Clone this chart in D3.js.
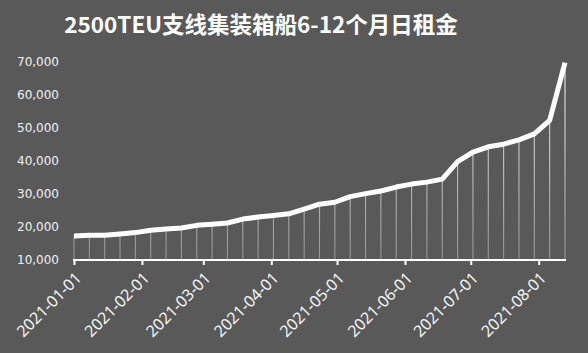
<!DOCTYPE html>
<html>
	<head>
		<meta charset="utf-8">
		<title>2500TEU支线集装箱船6-12个月日租金</title>
		<script src="https://cdn.jsdelivr.net/npm/d3@7"></script>
		<style>
			body { margin: 0; background: #595959; }
		</style>
	</head>
	<body>
		<div id='viz'></div>
		<script>
			var width = 588,
				height = 353;

			// weekly points, every Friday from 2021-01-01
			var startDate = '2021-01-01';
			var rents = [17300, 17500, 17500, 17900, 18300, 19000, 19400, 19700, 20500, 20800,
				21200, 22400, 23000, 23500, 24000, 25400, 26900, 27500, 29200, 30100,
				30900, 32100, 33000, 33600, 34500, 39800, 42700, 44300, 45100, 46400,
				48200, 52300, 69800];
			var yTicks = [10000, 20000, 30000, 40000, 50000, 60000, 70000];
			var xTickLabels = ['2021-01-01','2021-02-01','2021-03-01','2021-04-01',
				'2021-05-01','2021-06-01','2021-07-01','2021-08-01'];

			var parse = d3.timeParse('%Y-%m-%d');
			var t0 = parse(startDate);
			var data = rents.map((v, i) => ({date: d3.timeDay.offset(t0, i * 7), value: v}));

			var x = d3.scaleTime()
				.domain(d3.extent(data, d => d.date))
				.range([74, 565]);
			var y = d3.scaleLinear()
				.domain([10000, 70000])
				.range([260, 62]);

			var svg = d3.select('#viz')
				.append('svg')
				.attr('width', width)
				.attr('height', height);

			svg.append('rect')
				.attr('width', width)
				.attr('height', height)
				.attr('fill', '#595959');

			// title
			svg.append('text')
				.attr('x', 261)
				.attr('y', 33)
				.attr('text-anchor', 'middle')
				.attr('font-family', '"Noto Sans CJK SC", "Noto Sans", sans-serif')
				.attr('font-weight', 'bold')
				.attr('font-size', 22.5)
				.attr('fill', '#fff')
				.text('2500TEU支线集装箱船6-12个月日租金');

			// drop lines, fading toward the axis
			var grad = svg.append('defs').append('linearGradient')
				.attr('id', 'drop')
				.attr('gradientUnits', 'userSpaceOnUse')
				.attr('x1', 0).attr('x2', 0)
				.attr('y1', y(70000)).attr('y2', y(10000));
			grad.append('stop').attr('offset', '0%').attr('stop-color', '#fff').attr('stop-opacity', 0.95);
			grad.append('stop').attr('offset', '100%').attr('stop-color', '#fff').attr('stop-opacity', 0.35);

			svg.append('g')
				.selectAll('line')
				.data(data)
				.join('line')
				.attr('x1', d => x(d.date))
				.attr('x2', d => x(d.date))
				.attr('y1', d => y(d.value))
				.attr('y2', y(10000))
				.attr('stroke', 'url(#drop)')
				.attr('stroke-width', 1.1);

			// y labels
			svg.append('g')
				.selectAll('text')
				.data(yTicks)
				.join('text')
				.attr('x', 59)
				.attr('y', d => y(d))
				.attr('dy', '0.35em')
				.attr('text-anchor', 'end')
				.attr('font-family', '"DejaVu Sans", sans-serif')
				.attr('font-size', 12)
				.attr('fill', '#f2f2f2')
				.text(d => d3.format(',')(d));

			// x axis
			var xAxis = d3.axisBottom(x)
				.tickValues(xTickLabels.map(parse))
				.tickFormat(d3.timeFormat('%Y-%m-%d'))
				.tickSize(5)
				.tickSizeOuter(0);
			var gx = svg.append('g')
				.attr('transform', `translate(0,${y(10000)})`)
				.call(xAxis);
			gx.select('.domain')
				.attr('stroke', '#fff')
				.attr('stroke-width', 2.2)
				.attr('d', `M${x.range()[0] - 1},0H${x.range()[1] + 1}`);
			gx.selectAll('.tick line')
				.attr('stroke', '#fff')
				.attr('stroke-width', 2);
			gx.selectAll('.tick text')
				.attr('fill', '#f5f5f5')
				.attr('font-family', '"Noto Sans", sans-serif')
				.attr('font-size', 16)
				.attr('text-anchor', 'end')
				.attr('y', 0)
				.attr('dy', '0.35em')
				.attr('transform', 'translate(4,15) rotate(-45)');

			// rent line
			var line = d3.line()
				.x(d => x(d.date))
				.y(d => y(d.value));
			svg.append('path')
				.datum(data)
				.attr('fill', 'none')
				.attr('stroke', '#fff')
				.attr('stroke-width', 5)
				.attr('stroke-linejoin', 'round')
				.attr('d', line);
		</script>
	</body>
</html>
